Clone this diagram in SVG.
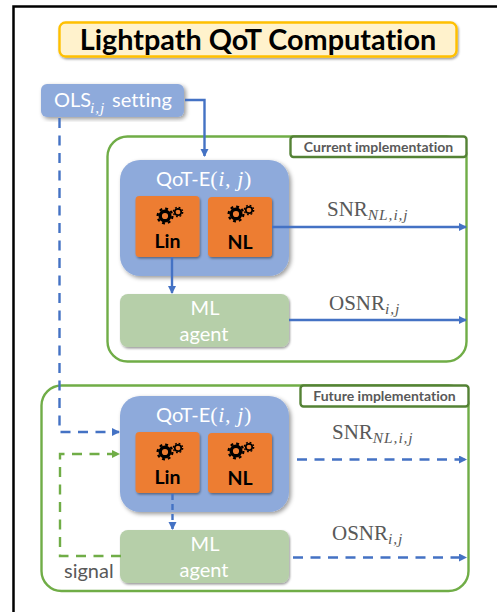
<svg xmlns="http://www.w3.org/2000/svg" width="497" height="612" viewBox="0 0 497 612">
<style>
.s{font-family:"Lato","Liberation Sans",sans-serif;font-variant-ligatures:none}
.m{font-family:"Liberation Serif","DejaVu Serif",serif;fill:#595959}
.wt{fill:#fff;font-size:20px}
.lb{font-family:"Lato","Liberation Sans",sans-serif;font-weight:700;font-size:19.500px;fill:#000;text-anchor:middle}
.tag{font-family:"Lato","Liberation Sans",sans-serif;font-variant-ligatures:none;font-weight:700;font-size:14px;fill:#595959;text-anchor:middle}
.blue{fill:#8eaadb;filter:url(#sh)}
.or{fill:#ed7d31;filter:url(#sh2)}
.ml{fill:#b6cfa9;filter:url(#sh2)}
.grp{fill:none;stroke:#70ad47;stroke-width:2.400}
.tagb{fill:#fff;stroke:#548235;stroke-width:2.400}
.c{fill:none;stroke:#4472c4;stroke-width:2.400}
.d{stroke-dasharray:10 7.500}
.g{fill:none;stroke:#70ad47;stroke-width:2.400;stroke-dasharray:10 7.500}
.it{font-style:italic;font-size:15.500px;letter-spacing:.9px}
.mw{font-family:"Liberation Serif","DejaVu Serif",serif;font-style:italic;font-size:15.500px;fill:#fff;letter-spacing:.9px}
.par{font-family:"Liberation Serif","DejaVu Serif",serif;font-size:22px;letter-spacing:.6px}
</style>
<defs>
<filter id="sh" x="-15%" y="-15%" width="130%" height="130%"><feDropShadow dx="2" dy="2" stdDeviation="2" flood-color="#000" flood-opacity=".4"/></filter>
<filter id="sh2" x="-15%" y="-15%" width="130%" height="130%"><feDropShadow dx="1" dy="1.500" stdDeviation="1.200" flood-color="#000" flood-opacity=".4"/></filter>
<marker id="a" markerWidth="9" markerHeight="9" refX="7" refY="4" orient="auto" markerUnits="userSpaceOnUse"><path d="M0 0L8 4L0 8z" fill="#4472c4"/></marker>
<marker id="ag" markerWidth="9" markerHeight="9" refX="7" refY="4" orient="auto" markerUnits="userSpaceOnUse"><path d="M0 0L8 4L0 8z" fill="#70ad47"/></marker>
<g id="gear">
<circle cx="0" cy="0" r="4.800" fill="none" stroke="#000" stroke-width="3.400"/>
<circle cx="0" cy="0" r="7.400" fill="none" stroke="#000" stroke-width="2.200" stroke-dasharray="2.900 2.900"/>
<circle cx="13" cy="-4" r="3.200" fill="none" stroke="#000" stroke-width="1.700"/>
<circle cx="13" cy="-4" r="4.700" fill="none" stroke="#000" stroke-width="1.300" stroke-dasharray="1.800 1.900"/>
</g>
</defs>
<rect width="497" height="612" fill="#fff"/>
<path d="M13.500 612V6.500H497" fill="none" stroke="#000" stroke-width="2.500"/>

<g id="title">
<rect x="59.500" y="22.500" width="397" height="34" rx="6" fill="#fff2cc" stroke="#ffc000" stroke-width="2.400" filter="url(#sh2)"/>
<text x="258" y="50" class="s" font-size="28.800" font-weight="700" text-anchor="middle" fill="#000">Lightpath QoT Computation</text>
</g>

<g id="current-impl">
<rect class="grp" x="107.500" y="136.500" width="359" height="225" rx="20"/>
<rect class="tagb" x="290.500" y="136.500" width="176" height="20.500" rx="3"/>
<text class="tag" x="378.500" y="152">Current implementation</text>
</g>
<g id="future-impl">
<rect class="grp" x="41.500" y="385.500" width="427" height="205.500" rx="20"/>
<rect class="tagb" x="300.500" y="385.500" width="168" height="21" rx="3"/>
<text class="tag" x="384.500" y="401">Future implementation</text>
</g>

<g id="ols">
<rect class="blue" x="41" y="84" width="143" height="33" rx="6"/>
<text x="54" y="107" class="s wt">OLS</text>
<text x="90" y="113" class="mw">i,j</text>
<text x="112" y="107" class="s wt">setting</text>
</g>

<g id="qot-current">
<rect class="blue" x="120" y="160" width="169" height="116" rx="20"/>
<text x="156" y="186" class="s wt">QoT-E<tspan class="par">(<tspan font-style="italic">i, j</tspan>)</tspan></text>
</g>
<g id="lin-current">
<rect class="or" x="135.500" y="196" width="64" height="61" rx="4"/>
<use href="#gear" x="165" y="216"/>
<text class="lb" x="167.500" y="248">Lin</text>
</g>
<g id="nl-current">
<rect class="or" x="208" y="197" width="64" height="60" rx="4"/>
<use href="#gear" x="236" y="214"/>
<text class="lb" x="240" y="249">NL</text>
</g>
<g id="ml-current">
<rect class="ml" x="120" y="294" width="169" height="53" rx="8"/>
<text x="205" y="315" class="s wt" text-anchor="middle">ML</text>
<text x="204" y="341" class="s wt" text-anchor="middle">agent</text>
</g>

<g id="qot-future">
<rect class="blue" x="120" y="396" width="169" height="116" rx="20"/>
<text x="156" y="422" class="s wt">QoT-E<tspan class="par">(<tspan font-style="italic">i, j</tspan>)</tspan></text>
</g>
<g id="lin-future">
<rect class="or" x="135.500" y="432" width="64" height="61" rx="4"/>
<use href="#gear" x="165" y="452"/>
<text class="lb" x="167.500" y="484">Lin</text>
</g>
<g id="nl-future">
<rect class="or" x="208" y="433" width="64" height="60" rx="4"/>
<use href="#gear" x="236" y="451"/>
<text class="lb" x="240" y="485">NL</text>
</g>
<g id="ml-future">
<rect class="ml" x="120" y="530" width="169" height="53" rx="8"/>
<text x="205" y="551" class="s wt" text-anchor="middle">ML</text>
<text x="204" y="577" class="s wt" text-anchor="middle">agent</text>
</g>

<g id="connectors">
<path class="c" d="M185 100H204.500V156" marker-end="url(#a)"/>
<path class="c" d="M272 227H466" marker-end="url(#a)"/>
<path class="c" d="M172 257V293" marker-end="url(#a)"/>
<path class="c" d="M289 320H466" marker-end="url(#a)"/>
<path class="c d" d="M59.500 118V432H119" marker-end="url(#a)"/>
<path class="g" d="M121 556H60V454H119" marker-end="url(#ag)"/>
<path class="c" stroke-dasharray="6 4" d="M172.500 494V529" marker-end="url(#a)"/>
<path class="c d" d="M297 459.500H466" marker-end="url(#a)"/>
<path class="c d" d="M293 557.500H466" marker-end="url(#a)"/>
</g>

<g id="labels">
<text x="64" y="578" class="s" font-size="20" fill="#595959">signal</text>
<text x="327" y="216" class="m" font-size="21">SNR<tspan class="it" dy="4">NL,i,j</tspan></text>
<text x="329" y="310" class="m" font-size="21">OSNR<tspan class="it" dy="4">i,j</tspan></text>
<text x="332" y="439" class="m" font-size="21">SNR<tspan class="it" dy="4">NL,i,j</tspan></text>
<text x="332" y="540" class="m" font-size="21">OSNR<tspan class="it" dy="4">i,j</tspan></text>
</g>
</svg>
